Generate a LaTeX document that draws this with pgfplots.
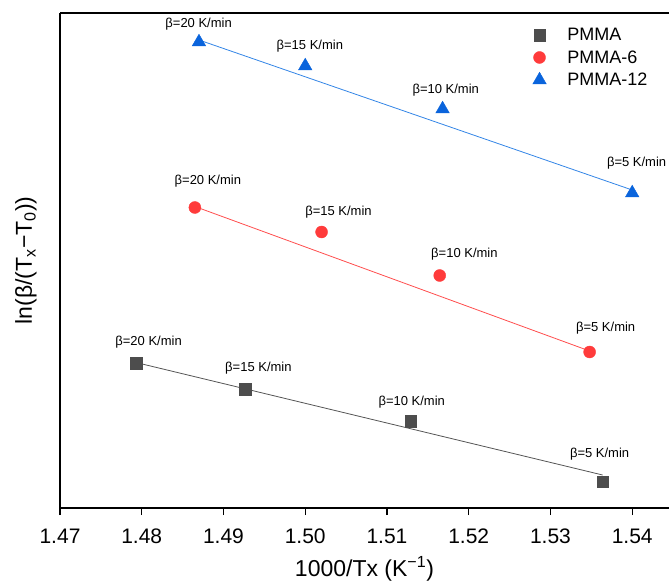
\documentclass[border=0pt]{standalone}
\usepackage{fontspec}
\setmainfont{Liberation Sans}
\usepackage{pgfplots}
\pgfplotsset{compat=1.18}
\definecolor{cgray}{HTML}{4D4D4D}
\definecolor{cred}{HTML}{FF3B3B}
\definecolor{cblue}{HTML}{0A64DC}
\definecolor{lgray}{HTML}{555555}
\definecolor{lred}{HTML}{FF4D4D}
\definecolor{lblue}{HTML}{3385E6}
\newcommand{\lab}{\fontsize{13bp}{15bp}\selectfont}
\begin{document}
\begin{tikzpicture}
\begin{axis}[
    scale only axis,
    width=609bp, height=495bp,
    xmin=1.47, xmax=1.5445,
    ymin=0, ymax=4.95,
    axis x line=box, axis y line=left,
    axis line style={-, line width=1.5bp, black},
    xtick={1.47,1.48,...,1.54},
    xtick pos=bottom, xtick align=outside,
    major tick length=7bp,
    every tick/.style={black, line width=1.3bp},
    ytick=\empty,
    minor tick num=0,
    ticklabel style={font=\fontsize{21bp}{24bp}\selectfont},
    xticklabel style={anchor=north, inner sep=0pt, yshift=-14bp,
        /pgf/number format/.cd, fixed, fixed zerofill, precision=2, assume math mode=true},
    xlabel={1000/Tx (K\textsuperscript{−1})},
    xlabel style={font=\fontsize{23bp}{26bp}\selectfont, at={(rel axis cs:0.5,0)}, anchor=base, yshift=-68.7bp, inner sep=0pt},
    ylabel={ln(β/(T\textsubscript{x}−T\textsubscript{0}))},
    ylabel style={font=\fontsize{23bp}{26bp}\selectfont, at={(rel axis cs:-0.038,0.5)}, anchor=south, inner sep=0pt},
    clip=false,
    legend style={at={(rel axis cs:0.776,0.974)}, anchor=north west, draw=none, fill=none,
        font=\fontsize{18bp}{20bp}\selectfont, inner sep=0pt, row sep=4.5bp,
        nodes={inner sep=2bp},
        /tikz/every odd column/.append style={column sep=19bp}},
    legend cell align=left,
]
\addplot[only marks, mark=square*, mark size=5.8bp, color=cgray]
    coordinates {(1.47929,1.445) (1.49262,1.19) (1.51291,0.87) (1.53638,0.265)};
\addlegendentry{PMMA}
\addplot[only marks, mark=*, mark size=6bp, color=cred]
    coordinates {(1.4865,3.005) (1.5020,2.76) (1.51645,2.325) (1.53479,1.56)};
\addlegendentry{PMMA-6}
\addplot[only marks, mark=triangle*, mark size=7.8bp, color=cblue]
    coordinates {(1.4870,4.66) (1.5000,4.42) (1.5168,3.99) (1.5400,3.15)};
\addlegendentry{PMMA-12}
% linear fits
\addplot[forget plot, no marks, color=lgray, line width=0.8bp] coordinates {(1.47929,1.455) (1.53638,0.33)};
\addplot[forget plot, no marks, color=lred, line width=0.8bp] coordinates {(1.4865,3.015) (1.53479,1.57)};
\addplot[forget plot, no marks, color=lblue, line width=0.8bp] coordinates {(1.4870,4.68) (1.5400,3.18)};
% heating rate labels
\node[font=\lab] at (axis cs:1.48084,1.663) {β=20 K/min};
\node[font=\lab] at (axis cs:1.49427,1.403) {β=15 K/min};
\node[font=\lab] at (axis cs:1.51303,1.063) {β=10 K/min};
\node[font=\lab] at (axis cs:1.53601,0.54) {β=5 K/min};
\node[font=\lab] at (axis cs:1.48809,3.27) {β=20 K/min};
\node[font=\lab] at (axis cs:1.50407,2.957) {β=15 K/min};
\node[font=\lab] at (axis cs:1.51947,2.537) {β=10 K/min};
\node[font=\lab] at (axis cs:1.53675,1.797) {β=5 K/min};
\node[font=\lab] at (axis cs:1.48696,4.84) {β=20 K/min};
\node[font=\lab] at (axis cs:1.50056,4.62) {β=15 K/min};
\node[font=\lab] at (axis cs:1.51719,4.18) {β=10 K/min};
\node[font=\lab] at (axis cs:1.54054,3.45) {β=5 K/min};
\end{axis}
\pgfresetboundingbox
\path (current axis.south west) ++(-60bp,-80bp) rectangle ++(669bp,588bp);
\end{tikzpicture}
\end{document}
